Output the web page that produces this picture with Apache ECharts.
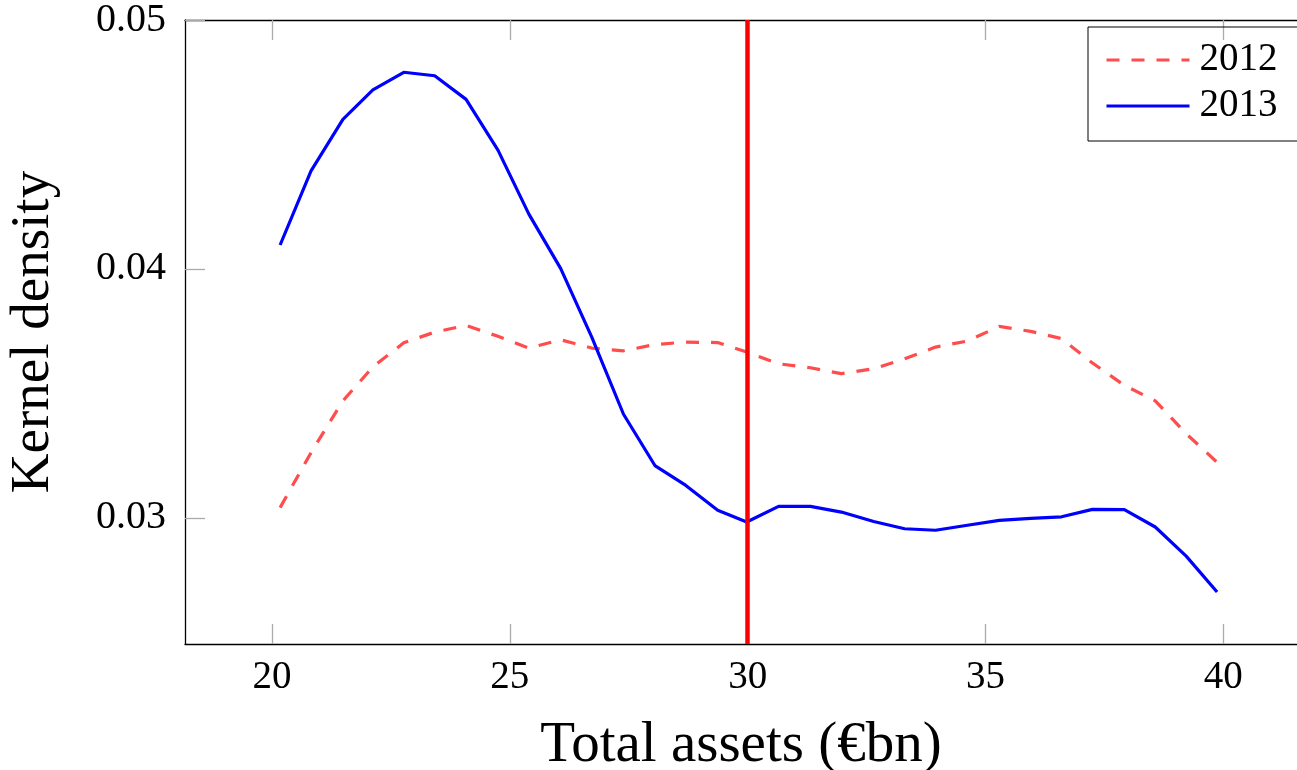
<!DOCTYPE html>
<html>
<head>
<meta charset="utf-8">
<script src="https://cdn.jsdelivr.net/npm/echarts@6/dist/echarts.min.js"></script>
<style>html,body{margin:0;padding:0;background:#fff;}#c{width:1297px;height:770px;}</style>
</head>
<body>
<div id="c"></div>
<script>
const xValues = [20.17,20.82,21.49,22.12,22.77,23.42,24.08,24.75,25.40,26.07,26.72,27.39,28.05,28.70,29.37,29.98,30.65,31.32,31.97,32.65,33.30,33.95,34.62,35.29,35.95,36.60,37.25,37.92,38.57,39.22,39.87];
const density2012 = [0.03041,0.03262,0.03470,0.03606,0.03703,0.03746,0.03773,0.03729,0.03682,0.03715,0.03682,0.03671,0.03696,0.03706,0.03704,0.03666,0.03619,0.03603,0.03579,0.03599,0.03639,0.03686,0.03710,0.03769,0.03749,0.03720,0.03622,0.03532,0.03470,0.03338,0.03223];
const density2013 = [0.04096,0.04394,0.04601,0.04719,0.04790,0.04776,0.04681,0.04477,0.04220,0.04001,0.03727,0.03416,0.03210,0.03130,0.03030,0.02983,0.03046,0.03046,0.03023,0.02985,0.02956,0.02950,0.02970,0.02990,0.02998,0.03004,0.03034,0.03033,0.02963,0.02846,0.02702];
const xTicks = [20,25,30,35,40];
const yTicks = [0.03,0.04,0.05];
const thresholdX = 30;
const seriesNames = ['2012','2013'];

const font = 'Liberation Serif';
const chart = echarts.init(document.getElementById('c'));
const pairs = arr => xValues.map((x,i)=>[x,arr[i]]);
chart.setOption({
  animation:false,
  backgroundColor:'#fff',
  grid:{left:185,top:20,width:1112,height:624,containLabel:false,outerBoundsMode:'none'},
  legend:{
    data:seriesNames,
    orient:'vertical',
    left:1088, top:27,
    padding:[10,40,12,17],
    itemGap:0,
    itemWidth:83, itemHeight:14,
    borderColor:'#000', borderWidth:1,
    itemStyle:{opacity:0},
    lineStyle:{width:3},
    textStyle:{fontFamily:font,fontSize:39,color:'#000',lineHeight:46,padding:[0,0,0,5]}
  },
  xAxis:[{
    type:'value', min:18.17, max:41.55, position:'bottom',
    name:'Total assets (€bn)', nameLocation:'middle', nameGap:74,
    nameTextStyle:{fontFamily:font,fontSize:57,color:'#000'},
    axisLine:{show:true,onZero:false,lineStyle:{color:'#000',width:1.3}},
    axisTick:{show:true,inside:true,length:20,customValues:xTicks,lineStyle:{color:'#aaa',width:1.3}},
    axisLabel:{customValues:xTicks,fontFamily:font,fontSize:39,color:'#000',margin:14},
    splitLine:{show:false}
  },{
    type:'value', min:18.17, max:41.55, position:'top',
    axisLine:{show:true,onZero:false,lineStyle:{color:'#000',width:1.3}},
    axisTick:{show:true,inside:true,length:20,customValues:xTicks,lineStyle:{color:'#aaa',width:1.3}},
    axisLabel:{show:false},
    splitLine:{show:false}
  }],
  yAxis:{
    type:'value', min:0.02493, max:0.05,
    name:'Kernel density', nameLocation:'middle', nameGap:124,
    nameTextStyle:{fontFamily:font,fontSize:55,color:'#000'},
    axisLine:{show:true,onZero:false,lineStyle:{color:'#000',width:1.3}},
    axisTick:{show:true,inside:true,length:20,customValues:yTicks,lineStyle:{color:'#aaa',width:1.3}},
    axisLabel:{customValues:yTicks,fontFamily:font,fontSize:40,color:'#000',margin:19,
      formatter:v=>v.toFixed(2)},
    splitLine:{show:false}
  },
  series:[{
    name:seriesNames[0], type:'line', data:pairs(density2012),
    symbol:'none', showSymbol:false, z:3,
    lineStyle:{color:'rgb(255,77,77)',width:3.2,type:[13,12]},
    itemStyle:{color:'rgb(255,77,77)'}
  },{
    name:seriesNames[1], type:'line', data:pairs(density2013),
    symbol:'none', showSymbol:false, z:4,
    lineStyle:{color:'#0000ff',width:3.2},
    itemStyle:{color:'#0000ff'},
    markLine:{
      silent:true, symbol:['none','none'], label:{show:false},
      lineStyle:{color:'#ff0000',width:4.5,type:'solid'},
      data:[{xAxis:thresholdX}]
    }
  }]
});
</script>
</body>
</html>
